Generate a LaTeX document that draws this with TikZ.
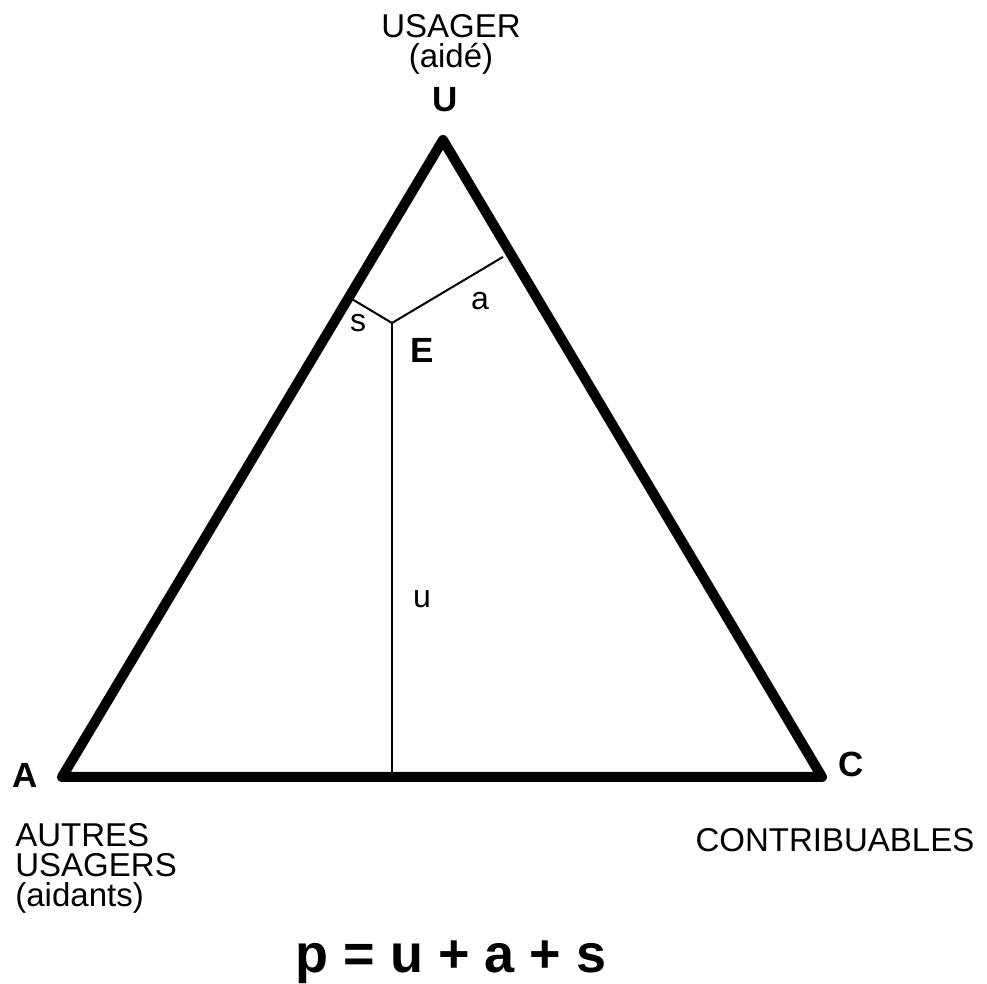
\documentclass[tikz,border=0pt]{standalone}
\usepackage{fontspec}
\setmainfont{Liberation Sans}
\usetikzlibrary{calc}

\begin{document}
\begin{tikzpicture}[x=0.5pt,y=0.5pt,
  edge/.style={line width=5pt,line join=round},
  leg/.style={line width=1pt},
  vtx/.style={font=\fontsize{17.5}{17.5}\selectfont\bfseries,inner sep=0pt,anchor=base},
  role/.style={font=\fontsize{16.5}{15}\selectfont,inner sep=0pt},
  part/.style={font=\fontsize{16}{16}\selectfont,inner sep=0pt,anchor=base}]
  \useasboundingbox (0,0) rectangle (987,984);

  % sommets du triangle
  \coordinate (U) at (443,844);
  \coordinate (A) at (62,207);
  \coordinate (C) at (822,207);
  \coordinate (E) at (392,661);
  \draw[edge] (A) -- (U) -- (C) -- cycle;

  % segments issus de E
  \coordinate (Fs) at ($(A)!(E)!(U)$);
  \coordinate (Pa) at ($(U)!(E)!(C)$);
  \coordinate (Fa) at ($(E)!0.94!(Pa)$);
  \coordinate (Fu) at ($(A)!(E)!(C)$);
  \draw[leg] (E) -- (Fs);
  \draw[leg] (E) -- (Fa);
  \draw[leg] (E) -- (Fu);

  \node[part] (ls) at (358,652) {s};
  \node[part] (la) at (480,674) {a};
  \node[part] (lu) at (422,376) {u};

  % etiquettes
  \node[vtx] (lU) at (445,872) {U};
  \node[vtx] (lE) at (422,621) {E};
  \node[vtx] (lA) at (25,196) {A};
  \node[vtx] (lC) at (851,207) {C};

  \node[role,align=center,anchor=north] (usager) at (451,970)
    {USAGER\\(aidé)};
  \node[role,align=left,anchor=north west] (autres) at (15,161)
    {AUTRES\\USAGERS\\(aidants)};
  \node[role,anchor=base] (contrib) at (835,132) {CONTRIBUABLES};

  \node[font=\fontsize{27}{27}\selectfont\bfseries,inner sep=0pt,anchor=base]
    (formule) at (451,11) {p = u + a + s};
\end{tikzpicture}
\end{document}
